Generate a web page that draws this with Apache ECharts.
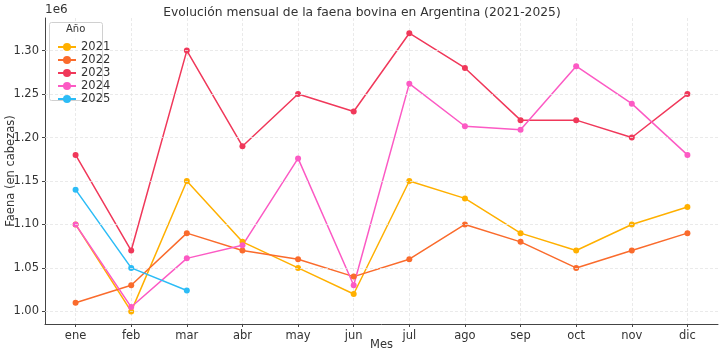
<!DOCTYPE html>
<html>
<head>
<meta charset="utf-8">
<script src="https://cdn.jsdelivr.net/npm/echarts@6/dist/echarts.min.js"></script>
<style>
  html, body { margin: 0; padding: 0; background: #fff; }
  #chart { width: 724px; height: 354px; }
</style>
</head>
<body>
<div id="chart"></div>
<script>
const months = ['ene', 'feb', 'mar', 'abr', 'may', 'jun', 'jul', 'ago', 'sep', 'oct', 'nov', 'dic'];
const years = ['2021', '2022', '2023', '2024', '2025'];
const colors = ['#FFB000', '#FA6B2C', '#F0385A', '#FC5AC4', '#2CBCF6'];

// faena mensual (cabezas)
const faena2021 = [1100000, 1000000, 1150000, 1080000, 1050000, 1020000, 1150000, 1130000, 1090000, 1070000, 1100000, 1120000];
const faena2022 = [1010000, 1030000, 1090000, 1070000, 1060000, 1040000, 1060000, 1100000, 1080000, 1050000, 1070000, 1090000];
const faena2023 = [1180000, 1070000, 1300000, 1190000, 1250000, 1230000, 1320000, 1280000, 1220000, 1220000, 1200000, 1250000];
const faena2024 = [1100000, 1005000, 1061000, 1076000, 1176000, 1030000, 1262000, 1213000, 1209000, 1282000, 1239000, 1180000];
const faena2025 = [1140000, 1050000, 1024000];

const yTicks = [1000000, 1050000, 1100000, 1150000, 1200000, 1250000, 1300000];
const xTicks = months.map((m, i) => i);

const allSeries = [faena2021, faena2022, faena2023, faena2024, faena2025];

let chart = echarts.init(document.getElementById('chart'));

const gridStyle = { show: true, lineStyle: { color: '#e4e4e4', type: [3, 2], width: 0.8 } };

const series = allSeries.map((vals, k) => ({
  name: years[k],
  type: 'line',
  data: vals.map((v, i) => [i, v]),
  symbol: 'circle',
  symbolSize: 6,
  lineStyle: { width: 1.5, color: colors[k] },
  itemStyle: { color: colors[k] },
  emphasis: { disabled: true }
}));

// líneas de grilla horizontales
series.push({
  type: 'line',
  data: [],
  silent: true,
  z: 0,
  markLine: {
    symbol: 'none',
    silent: true,
    label: { show: false },
    lineStyle: gridStyle.lineStyle,
    data: yTicks.map(v => ({ yAxis: v }))
  }
});

const chartOptions = {
  animation: false,
  textStyle: { fontFamily: 'DejaVu Sans' },
  color: colors,
  title: {
    text: 'Evolución mensual de la faena bovina en Argentina (2021-2025)',
    left: 'center',
    top: 2,
    textStyle: { fontSize: 12.3, fontWeight: 'normal', color: '#333', fontFamily: 'DejaVu Sans' }
  },
  legend: {
    data: years,
    orient: 'vertical',
    left: 52,
    top: 36,
    z: 10,
    itemGap: 1,
    itemWidth: 18,
    itemHeight: 10,
    textStyle: { fontSize: 11.5, color: '#333', fontFamily: 'DejaVu Sans' }
  },
  graphic: [
    {
      type: 'rect',
      left: 49, top: 22,
      shape: { width: 53, height: 78, r: 2 },
      style: { fill: 'rgba(255,255,255,0.85)', stroke: '#d0d0d0', lineWidth: 1 },
      z: 5
    },
    {
      type: 'text',
      left: 66, top: 24,
      style: { text: 'Año', fontSize: 10, fill: '#333', fontFamily: 'DejaVu Sans' },
      z: 6
    },
    {
      type: 'text',
      left: 45, top: 4,
      style: { text: '1e6', fontSize: 12, fill: '#333', fontFamily: 'DejaVu Sans' }
    }
  ],
  grid: { left: 45, right: 6, top: 18, bottom: 30, outerBoundsMode: 'none', containLabel: false },
  xAxis: {
    type: 'value',
    min: -0.55,
    max: 11.55,
    name: 'Mes',
    nameLocation: 'middle',
    nameGap: 15,
    nameMoveOverlap: false,
    nameTextStyle: { fontSize: 11.5, color: '#333' },
    axisLine: { show: true, onZero: false, lineStyle: { color: '#444', width: 1 } },
    axisTick: { show: true, customValues: xTicks, length: 3, lineStyle: { color: '#444' } },
    axisLabel: {
      customValues: xTicks,
      fontSize: 11.5,
      color: '#333',
      margin: 6,
      formatter: v => months[Math.round(v)]
    },
    splitLine: gridStyle
  },
  yAxis: {
    type: 'value',
    min: 985500,
    max: 1337500,
    name: 'Faena (en cabezas)',
    nameLocation: 'middle',
    nameGap: 28,
    nameMoveOverlap: false,
    nameTextStyle: { fontSize: 11.5, color: '#333' },
    axisLine: { show: true, onZero: false, lineStyle: { color: '#444', width: 1 } },
    axisTick: { show: true, customValues: yTicks, length: 3, lineStyle: { color: '#444' } },
    axisLabel: {
      customValues: yTicks,
      fontSize: 11.5,
      color: '#333',
      margin: 6,
      formatter: v => (v / 1e6).toFixed(2)
    },
    splitLine: { show: false }
  },
  series: series
};

chart.setOption(chartOptions);
</script>
</body>
</html>
